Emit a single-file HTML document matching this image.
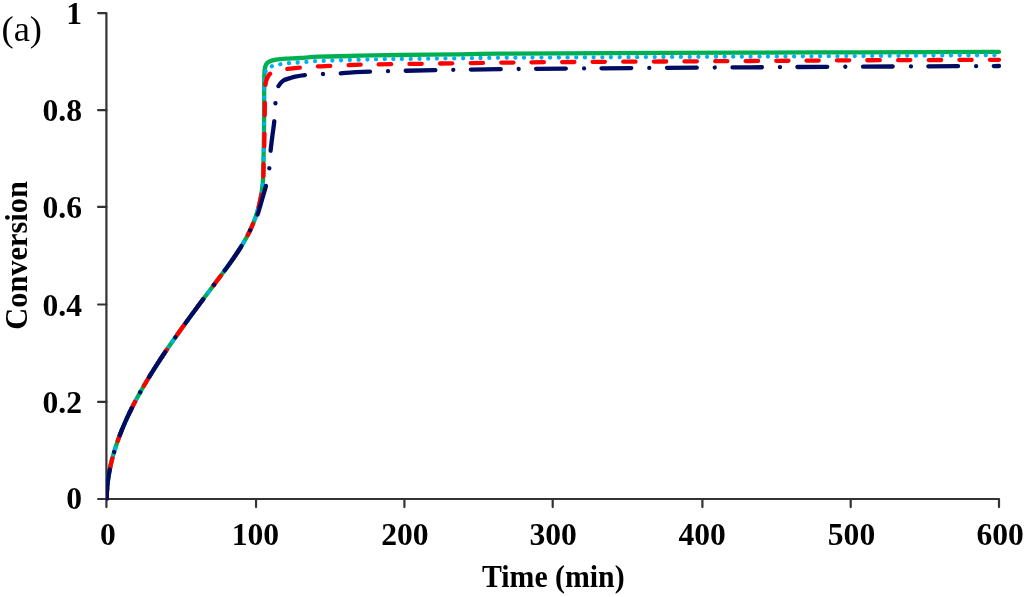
<!DOCTYPE html>
<html><head><meta charset="utf-8"><style>
html,body{margin:0;padding:0;background:#fff;}
svg{display:block;}
.lab text{font-family:"Liberation Serif",serif;font-weight:bold;font-size:30px;fill:#000;}
.tick text{font-size:31.6px;}
</style></head><body>
<svg width="1024" height="597" viewBox="0 0 1024 597">
<rect width="1024" height="597" fill="#fff"/>
<g stroke="#333" stroke-width="2.2" fill="none" stroke-linejoin="round" stroke-linecap="round">
<path d="M98.1,13.05 H106.40 V499.00"/>
<path d="M98.1,499.00 H999.00 V507.1"/>
<line x1="98.1" y1="401.90" x2="106.40" y2="401.90"/>
<line x1="98.1" y1="304.50" x2="106.40" y2="304.50"/>
<line x1="98.1" y1="206.90" x2="106.40" y2="206.90"/>
<line x1="98.1" y1="110.20" x2="106.40" y2="110.20"/>
<line x1="106.40" y1="499.00" x2="106.40" y2="507.1"/>
<line x1="256.05" y1="499.00" x2="256.05" y2="507.1"/>
<line x1="404.40" y1="499.00" x2="404.40" y2="507.1"/>
<line x1="552.70" y1="499.00" x2="552.70" y2="507.1"/>
<line x1="702.40" y1="499.00" x2="702.40" y2="507.1"/>
<line x1="850.70" y1="499.00" x2="850.70" y2="507.1"/>
</g>
<clipPath id="pa"><rect x="106.1" y="0" width="895.3" height="500.4"/></clipPath>
<g fill="none" stroke-linecap="round" stroke-linejoin="round" clip-path="url(#pa)">
<path d="M106.69,499.00 C106.70,498.50 106.72,497.00 106.74,496.00 C106.77,495.00 106.81,494.00 106.86,493.00 C106.91,492.00 106.97,491.00 107.04,490.00 C107.11,489.00 107.18,488.00 107.27,487.00 C107.36,486.00 107.46,485.00 107.57,484.00 C107.67,483.00 107.79,482.00 107.92,481.00 C108.04,480.00 108.18,479.00 108.33,478.00 C108.47,477.00 108.63,476.00 108.79,475.00 C108.95,474.00 109.13,473.00 109.31,472.00 C109.49,471.00 109.68,470.00 109.88,469.00 C110.08,468.00 110.29,467.00 110.51,466.00 C110.72,465.00 110.95,464.00 111.18,463.00 C111.42,462.00 111.66,461.00 111.91,460.00 C112.16,459.00 112.42,458.00 112.69,457.00 C112.96,456.00 113.24,455.00 113.52,454.00 C113.81,453.00 114.10,452.00 114.40,451.00 C114.70,450.00 115.01,449.00 115.33,448.00 C115.64,447.00 115.97,446.00 116.30,445.00 C116.63,444.00 116.97,443.00 117.32,442.00 C117.67,441.00 118.02,440.00 118.38,439.00 C118.75,438.00 119.12,437.00 119.49,436.00 C119.87,435.00 120.26,434.00 120.65,433.00 C121.04,432.00 121.44,431.00 121.84,430.00 C122.25,429.00 122.66,428.00 123.08,427.00 C123.50,426.00 123.93,425.00 124.36,424.00 C124.80,423.00 125.24,422.00 125.68,421.00 C126.13,420.00 126.58,419.00 127.04,418.00 C127.50,417.00 127.97,416.00 128.44,415.00 C128.91,414.00 129.39,413.00 129.88,412.00 C130.36,411.00 130.85,410.00 131.35,409.00 C131.85,408.00 132.35,407.00 132.86,406.00 C133.37,405.00 133.88,404.00 134.41,403.00 C134.93,402.00 135.45,401.00 135.98,400.00 C136.52,399.00 137.05,398.00 137.60,397.00 C138.14,396.00 138.69,395.00 139.24,394.00 C139.80,393.00 140.36,392.00 140.92,391.00 C141.48,390.00 142.05,389.00 142.63,388.00 C143.20,387.00 143.78,386.00 144.37,385.00 C144.95,384.00 145.54,383.00 146.13,382.00 C146.73,381.00 147.33,380.00 147.93,379.00 C148.53,378.00 149.14,377.00 149.75,376.00 C150.37,375.00 150.98,374.00 151.60,373.00 C152.22,372.00 152.85,371.00 153.48,370.00 C154.11,369.00 154.74,368.00 155.38,367.00 C156.02,366.00 156.66,365.00 157.31,364.00 C157.95,363.00 158.60,362.00 159.26,361.00 C159.91,360.00 160.57,359.00 161.23,358.00 C161.89,357.00 162.55,356.00 163.22,355.00 C163.89,354.00 164.56,353.00 165.23,352.00 C165.91,351.00 166.59,350.00 167.27,349.00 C167.95,348.00 168.63,347.00 169.32,346.00 C170.01,345.00 170.70,344.00 171.39,343.00 C172.09,342.00 172.78,341.00 173.48,340.00 C174.18,339.00 174.88,338.00 175.59,337.00 C176.29,336.00 177.00,335.00 177.71,334.00 C178.42,333.00 179.13,332.00 179.84,331.00 C180.56,330.00 181.27,329.00 181.99,328.00 C182.71,327.00 183.43,326.00 184.15,325.00 C184.88,324.00 185.60,323.00 186.33,322.00 C187.06,321.00 187.79,320.00 188.52,319.00 C189.25,318.00 189.98,317.00 190.71,316.00 C191.45,315.00 192.18,314.00 192.92,313.00 C193.66,312.00 194.40,311.00 195.14,310.00 C195.88,309.00 196.62,308.00 197.36,307.00 C198.10,306.00 198.85,305.00 199.59,304.00 C200.33,303.00 201.08,302.00 201.83,301.00 C202.57,300.00 203.32,299.00 204.07,298.00 C204.82,297.00 205.57,296.00 206.32,295.00 C207.07,294.00 207.82,293.00 208.57,292.00 C209.32,291.00 210.07,290.00 210.82,289.00 C211.57,288.00 212.33,287.00 213.08,286.00 C213.83,285.00 214.58,284.00 215.34,283.00 C216.09,282.00 216.84,281.00 217.59,280.00 C218.34,279.00 219.10,278.00 219.84,277.00 C220.59,276.00 221.34,275.00 222.08,274.00 C222.83,273.00 223.57,272.00 224.31,271.00 C225.05,270.00 225.78,269.00 226.51,268.00 C227.24,267.00 227.97,266.00 228.69,265.00 C229.41,264.00 230.13,263.00 230.83,262.00 C231.54,261.00 232.25,260.00 232.94,259.00 C233.64,258.00 234.32,257.00 235.00,256.00 C235.68,255.00 236.36,254.00 237.02,253.00 C237.68,252.00 238.34,251.00 238.98,250.00 C239.63,249.00 240.26,248.00 240.89,247.00 C241.51,246.00 242.12,245.00 242.72,244.00 C243.33,243.00 243.92,242.00 244.49,241.00 C245.07,240.00 245.64,239.00 246.19,238.00 C246.74,237.00 247.28,236.00 247.80,235.00 C248.33,234.00 248.84,233.00 249.33,232.00 C249.82,231.00 250.30,230.00 250.77,229.00 C251.23,228.00 251.68,227.00 252.11,226.00 C252.54,225.00 252.96,224.00 253.36,223.00 C253.77,222.00 254.16,221.00 254.53,220.00 C254.90,219.00 255.26,218.00 255.61,217.00 C255.96,216.00 256.29,215.00 256.61,214.00 C256.93,213.00 257.24,212.00 257.53,211.00 C257.82,210.00 258.10,209.00 258.37,208.00 C258.64,207.00 258.89,206.00 259.14,205.00 C259.38,204.00 259.61,203.00 259.83,202.00 C260.06,201.00 260.26,200.00 260.46,199.00 C260.66,198.00 260.85,197.00 261.02,196.00 C261.20,195.00 261.36,194.00 261.52,193.00 C261.67,192.00 261.82,191.00 261.95,190.00 C262.09,189.00 262.21,188.00 262.33,187.00 C262.45,186.00 262.55,185.00 262.65,184.00 C262.75,183.00 262.84,182.00 262.92,181.00 C263.00,180.00 263.07,179.00 263.13,178.00 C263.20,177.00 263.25,176.00 263.30,175.00 C263.35,174.00 263.39,174.50 263.43,172.00 C263.46,169.50 263.43,164.50 263.50,160.00 C263.57,155.50 263.76,150.83 263.85,145.00 C263.94,139.17 264.00,131.67 264.05,125.00 C264.10,118.33 264.12,111.83 264.15,105.00 C264.17,98.17 264.12,89.83 264.20,84.00 C264.27,78.17 264.23,73.33 264.60,70.00 C264.97,66.67 265.50,65.45 266.40,64.00 C267.30,62.55 268.40,62.02 270.00,61.30 C271.60,60.58 273.40,60.15 276.00,59.70 C278.60,59.25 281.60,58.88 285.60,58.60 C289.60,58.32 294.35,58.32 300.00,58.00 C305.65,57.68 309.50,57.08 319.50,56.70 C329.50,56.32 346.58,55.98 360.00,55.70 C373.42,55.42 383.33,55.23 400.00,55.00 C416.67,54.77 443.33,54.52 460.00,54.30 C476.67,54.08 483.33,53.85 500.00,53.70 C516.67,53.55 518.33,53.58 560.00,53.40 C601.67,53.22 700.00,52.78 750.00,52.60 C800.00,52.42 818.50,52.42 860.00,52.30 C901.50,52.18 975.83,51.97 999.00,51.90" stroke="#00B050" stroke-width="4.3"/>
<path d="M106.69,499.00 C106.70,498.50 106.72,497.00 106.74,496.00 C106.77,495.00 106.81,494.00 106.86,493.00 C106.91,492.00 106.97,491.00 107.04,490.00 C107.11,489.00 107.18,488.00 107.27,487.00 C107.36,486.00 107.46,485.00 107.57,484.00 C107.67,483.00 107.79,482.00 107.92,481.00 C108.04,480.00 108.18,479.00 108.33,478.00 C108.47,477.00 108.63,476.00 108.79,475.00 C108.95,474.00 109.13,473.00 109.31,472.00 C109.49,471.00 109.68,470.00 109.88,469.00 C110.08,468.00 110.29,467.00 110.51,466.00 C110.72,465.00 110.95,464.00 111.18,463.00 C111.42,462.00 111.66,461.00 111.91,460.00 C112.16,459.00 112.42,458.00 112.69,457.00 C112.96,456.00 113.24,455.00 113.52,454.00 C113.81,453.00 114.10,452.00 114.40,451.00 C114.70,450.00 115.01,449.00 115.33,448.00 C115.64,447.00 115.97,446.00 116.30,445.00 C116.63,444.00 116.97,443.00 117.32,442.00 C117.67,441.00 118.02,440.00 118.38,439.00 C118.75,438.00 119.12,437.00 119.49,436.00 C119.87,435.00 120.26,434.00 120.65,433.00 C121.04,432.00 121.44,431.00 121.84,430.00 C122.25,429.00 122.66,428.00 123.08,427.00 C123.50,426.00 123.93,425.00 124.36,424.00 C124.80,423.00 125.24,422.00 125.68,421.00 C126.13,420.00 126.58,419.00 127.04,418.00 C127.50,417.00 127.97,416.00 128.44,415.00 C128.91,414.00 129.39,413.00 129.88,412.00 C130.36,411.00 130.85,410.00 131.35,409.00 C131.85,408.00 132.35,407.00 132.86,406.00 C133.37,405.00 133.88,404.00 134.41,403.00 C134.93,402.00 135.45,401.00 135.98,400.00 C136.52,399.00 137.05,398.00 137.60,397.00 C138.14,396.00 138.69,395.00 139.24,394.00 C139.80,393.00 140.36,392.00 140.92,391.00 C141.48,390.00 142.05,389.00 142.63,388.00 C143.20,387.00 143.78,386.00 144.37,385.00 C144.95,384.00 145.54,383.00 146.13,382.00 C146.73,381.00 147.33,380.00 147.93,379.00 C148.53,378.00 149.14,377.00 149.75,376.00 C150.37,375.00 150.98,374.00 151.60,373.00 C152.22,372.00 152.85,371.00 153.48,370.00 C154.11,369.00 154.74,368.00 155.38,367.00 C156.02,366.00 156.66,365.00 157.31,364.00 C157.95,363.00 158.60,362.00 159.26,361.00 C159.91,360.00 160.57,359.00 161.23,358.00 C161.89,357.00 162.55,356.00 163.22,355.00 C163.89,354.00 164.56,353.00 165.23,352.00 C165.91,351.00 166.59,350.00 167.27,349.00 C167.95,348.00 168.63,347.00 169.32,346.00 C170.01,345.00 170.70,344.00 171.39,343.00 C172.09,342.00 172.78,341.00 173.48,340.00 C174.18,339.00 174.88,338.00 175.59,337.00 C176.29,336.00 177.00,335.00 177.71,334.00 C178.42,333.00 179.13,332.00 179.84,331.00 C180.56,330.00 181.27,329.00 181.99,328.00 C182.71,327.00 183.43,326.00 184.15,325.00 C184.88,324.00 185.60,323.00 186.33,322.00 C187.06,321.00 187.79,320.00 188.52,319.00 C189.25,318.00 189.98,317.00 190.71,316.00 C191.45,315.00 192.18,314.00 192.92,313.00 C193.66,312.00 194.40,311.00 195.14,310.00 C195.88,309.00 196.62,308.00 197.36,307.00 C198.10,306.00 198.85,305.00 199.59,304.00 C200.33,303.00 201.08,302.00 201.83,301.00 C202.57,300.00 203.32,299.00 204.07,298.00 C204.82,297.00 205.57,296.00 206.32,295.00 C207.07,294.00 207.82,293.00 208.57,292.00 C209.32,291.00 210.07,290.00 210.82,289.00 C211.57,288.00 212.33,287.00 213.08,286.00 C213.83,285.00 214.58,284.00 215.34,283.00 C216.09,282.00 216.84,281.00 217.59,280.00 C218.34,279.00 219.10,278.00 219.84,277.00 C220.59,276.00 221.34,275.00 222.08,274.00 C222.83,273.00 223.57,272.00 224.31,271.00 C225.05,270.00 225.78,269.00 226.51,268.00 C227.24,267.00 227.97,266.00 228.69,265.00 C229.41,264.00 230.13,263.00 230.83,262.00 C231.54,261.00 232.25,260.00 232.94,259.00 C233.64,258.00 234.32,257.00 235.00,256.00 C235.68,255.00 236.36,254.00 237.02,253.00 C237.68,252.00 238.34,251.00 238.98,250.00 C239.63,249.00 240.26,248.00 240.89,247.00 C241.51,246.00 242.12,245.00 242.72,244.00 C243.33,243.00 243.92,242.00 244.49,241.00 C245.07,240.00 245.64,239.00 246.19,238.00 C246.74,237.00 247.28,236.00 247.80,235.00 C248.33,234.00 248.84,233.00 249.33,232.00 C249.82,231.00 250.30,230.00 250.77,229.00 C251.23,228.00 251.68,227.00 252.11,226.00 C252.54,225.00 252.96,224.00 253.36,223.00 C253.77,222.00 254.16,221.00 254.53,220.00 C254.90,219.00 255.26,218.00 255.61,217.00 C255.96,216.00 256.29,215.00 256.61,214.00 C256.93,213.00 257.24,212.00 257.53,211.00 C257.82,210.00 258.10,209.00 258.37,208.00 C258.64,207.00 258.89,206.00 259.14,205.00 C259.38,204.00 259.61,203.00 259.83,202.00 C260.06,201.00 260.26,200.00 260.46,199.00 C260.66,198.00 260.85,197.00 261.02,196.00 C261.20,195.00 261.36,194.00 261.52,193.00 C261.67,192.00 261.82,191.00 261.95,190.00 C262.09,189.00 262.21,188.00 262.33,187.00 C262.45,186.00 262.55,185.00 262.65,184.00 C262.75,183.00 262.84,182.00 262.92,181.00 C263.00,180.00 263.07,179.00 263.13,178.00 C263.20,177.00 263.25,176.00 263.30,175.00 C263.35,174.00 263.39,174.50 263.43,172.00 C263.46,169.50 263.43,164.50 263.50,160.00 C263.57,155.50 263.76,150.83 263.85,145.00 C263.94,139.17 264.00,131.67 264.05,125.00 C264.10,118.33 264.11,111.50 264.15,105.00 C264.19,98.50 264.12,91.33 264.30,86.00 C264.48,80.67 264.65,75.93 265.20,73.00 C265.75,70.07 266.50,69.53 267.60,68.40 C268.70,67.27 269.72,66.88 271.80,66.20 C273.88,65.52 277.28,64.82 280.10,64.30 C282.92,63.78 285.78,63.40 288.70,63.10 C291.62,62.80 294.72,62.70 297.60,62.50 C300.48,62.30 303.10,62.12 306.00,61.90 C308.90,61.68 311.00,61.42 315.00,61.20 C319.00,60.98 319.83,60.92 330.00,60.60 C340.17,60.28 361.00,59.60 376.00,59.30 C391.00,59.00 399.33,59.05 420.00,58.80 C440.67,58.55 476.67,58.02 500.00,57.80 C523.33,57.58 518.33,57.70 560.00,57.50 C601.67,57.30 700.00,56.85 750.00,56.60 C800.00,56.35 818.50,56.25 860.00,56.00 C901.50,55.75 975.83,55.25 999.00,55.10" stroke="#00B0F0" stroke-width="4.3" stroke-dasharray="0.01 8.7" stroke-dashoffset="0.6"/>
<path d="M106.69,499.00 C106.70,498.50 106.72,497.00 106.74,496.00 C106.77,495.00 106.81,494.00 106.86,493.00 C106.91,492.00 106.97,491.00 107.04,490.00 C107.11,489.00 107.18,488.00 107.27,487.00 C107.36,486.00 107.46,485.00 107.57,484.00 C107.67,483.00 107.79,482.00 107.92,481.00 C108.04,480.00 108.18,479.00 108.33,478.00 C108.47,477.00 108.63,476.00 108.79,475.00 C108.95,474.00 109.13,473.00 109.31,472.00 C109.49,471.00 109.68,470.00 109.88,469.00 C110.08,468.00 110.29,467.00 110.51,466.00 C110.72,465.00 110.95,464.00 111.18,463.00 C111.42,462.00 111.66,461.00 111.91,460.00 C112.16,459.00 112.42,458.00 112.69,457.00 C112.96,456.00 113.24,455.00 113.52,454.00 C113.81,453.00 114.10,452.00 114.40,451.00 C114.70,450.00 115.01,449.00 115.33,448.00 C115.64,447.00 115.97,446.00 116.30,445.00 C116.63,444.00 116.97,443.00 117.32,442.00 C117.67,441.00 118.02,440.00 118.38,439.00 C118.75,438.00 119.12,437.00 119.49,436.00 C119.87,435.00 120.26,434.00 120.65,433.00 C121.04,432.00 121.44,431.00 121.84,430.00 C122.25,429.00 122.66,428.00 123.08,427.00 C123.50,426.00 123.93,425.00 124.36,424.00 C124.80,423.00 125.24,422.00 125.68,421.00 C126.13,420.00 126.58,419.00 127.04,418.00 C127.50,417.00 127.97,416.00 128.44,415.00 C128.91,414.00 129.39,413.00 129.88,412.00 C130.36,411.00 130.85,410.00 131.35,409.00 C131.85,408.00 132.35,407.00 132.86,406.00 C133.37,405.00 133.88,404.00 134.41,403.00 C134.93,402.00 135.45,401.00 135.98,400.00 C136.52,399.00 137.05,398.00 137.60,397.00 C138.14,396.00 138.69,395.00 139.24,394.00 C139.80,393.00 140.36,392.00 140.92,391.00 C141.48,390.00 142.05,389.00 142.63,388.00 C143.20,387.00 143.78,386.00 144.37,385.00 C144.95,384.00 145.54,383.00 146.13,382.00 C146.73,381.00 147.33,380.00 147.93,379.00 C148.53,378.00 149.14,377.00 149.75,376.00 C150.37,375.00 150.98,374.00 151.60,373.00 C152.22,372.00 152.85,371.00 153.48,370.00 C154.11,369.00 154.74,368.00 155.38,367.00 C156.02,366.00 156.66,365.00 157.31,364.00 C157.95,363.00 158.60,362.00 159.26,361.00 C159.91,360.00 160.57,359.00 161.23,358.00 C161.89,357.00 162.55,356.00 163.22,355.00 C163.89,354.00 164.56,353.00 165.23,352.00 C165.91,351.00 166.59,350.00 167.27,349.00 C167.95,348.00 168.63,347.00 169.32,346.00 C170.01,345.00 170.70,344.00 171.39,343.00 C172.09,342.00 172.78,341.00 173.48,340.00 C174.18,339.00 174.88,338.00 175.59,337.00 C176.29,336.00 177.00,335.00 177.71,334.00 C178.42,333.00 179.13,332.00 179.84,331.00 C180.56,330.00 181.27,329.00 181.99,328.00 C182.71,327.00 183.43,326.00 184.15,325.00 C184.88,324.00 185.60,323.00 186.33,322.00 C187.06,321.00 187.79,320.00 188.52,319.00 C189.25,318.00 189.98,317.00 190.71,316.00 C191.45,315.00 192.18,314.00 192.92,313.00 C193.66,312.00 194.40,311.00 195.14,310.00 C195.88,309.00 196.62,308.00 197.36,307.00 C198.10,306.00 198.85,305.00 199.59,304.00 C200.33,303.00 201.08,302.00 201.83,301.00 C202.57,300.00 203.32,299.00 204.07,298.00 C204.82,297.00 205.57,296.00 206.32,295.00 C207.07,294.00 207.82,293.00 208.57,292.00 C209.32,291.00 210.07,290.00 210.82,289.00 C211.57,288.00 212.33,287.00 213.08,286.00 C213.83,285.00 214.58,284.00 215.34,283.00 C216.09,282.00 216.84,281.00 217.59,280.00 C218.34,279.00 219.10,278.00 219.84,277.00 C220.59,276.00 221.34,275.00 222.08,274.00 C222.83,273.00 223.57,272.00 224.31,271.00 C225.05,270.00 225.78,269.00 226.51,268.00 C227.24,267.00 227.97,266.00 228.69,265.00 C229.41,264.00 230.13,263.00 230.83,262.00 C231.54,261.00 232.25,260.00 232.94,259.00 C233.64,258.00 234.32,257.00 235.00,256.00 C235.68,255.00 236.36,254.00 237.02,253.00 C237.68,252.00 238.34,251.00 238.98,250.00 C239.63,249.00 240.26,248.00 240.89,247.00 C241.51,246.00 242.12,245.00 242.72,244.00 C243.33,243.00 243.92,242.00 244.49,241.00 C245.07,240.00 245.64,239.00 246.19,238.00 C246.74,237.00 247.28,236.00 247.80,235.00 C248.33,234.00 248.84,233.00 249.33,232.00 C249.82,231.00 250.30,230.00 250.77,229.00 C251.23,228.00 251.68,227.00 252.11,226.00 C252.54,225.00 252.96,224.00 253.36,223.00 C253.77,222.00 254.16,221.00 254.53,220.00 C254.90,219.00 255.26,218.00 255.61,217.00 C255.96,216.00 256.29,215.00 256.61,214.00 C256.93,213.00 257.24,212.00 257.53,211.00 C257.82,210.00 258.10,209.00 258.37,208.00 C258.64,207.00 258.89,206.00 259.14,205.00 C259.38,204.00 259.61,203.00 259.83,202.00 C260.06,201.00 260.26,200.00 260.46,199.00 C260.66,198.00 260.85,197.00 261.02,196.00 C261.20,195.00 261.36,194.00 261.52,193.00 C261.67,192.00 261.82,191.00 261.95,190.00 C262.09,189.00 262.21,188.00 262.33,187.00 C262.45,186.00 262.55,185.00 262.65,184.00 C262.75,183.00 262.84,182.00 262.92,181.00 C263.00,180.00 263.07,179.00 263.13,178.00 C263.20,177.00 263.25,176.00 263.30,175.00 C263.35,174.00 263.38,174.50 263.43,172.00 C263.47,169.50 263.47,164.00 263.60,160.00 C263.73,156.00 264.02,155.17 264.20,148.00 C264.38,140.83 264.57,125.83 264.70,117.00 C264.83,108.17 264.82,100.75 265.00,95.00 C265.18,89.25 265.20,85.75 265.80,82.50 C266.40,79.25 267.48,77.20 268.60,75.50 C269.72,73.80 270.93,73.12 272.50,72.30 C274.07,71.48 275.75,71.13 278.00,70.60 C280.25,70.07 282.17,69.60 286.00,69.10 C289.83,68.60 295.95,68.03 301.00,67.60 C306.05,67.17 311.22,66.78 316.30,66.50 C321.38,66.22 326.43,66.12 331.50,65.90 C336.57,65.68 341.53,65.42 346.70,65.20 C351.87,64.98 350.28,64.83 362.50,64.60 C374.72,64.37 397.08,64.12 420.00,63.80 C442.92,63.48 476.67,62.98 500.00,62.70 C523.33,62.42 518.33,62.38 560.00,62.10 C601.67,61.82 700.00,61.30 750.00,61.00 C800.00,60.70 818.50,60.50 860.00,60.30 C901.50,60.10 975.83,59.88 999.00,59.80" stroke="#FF0000" stroke-width="4.3" stroke-dasharray="12.3 18.24" stroke-dashoffset="1.7"/>
<path d="M106.69,499.00 C106.70,498.50 106.72,497.00 106.74,496.00 C106.77,495.00 106.81,494.00 106.86,493.00 C106.91,492.00 106.97,491.00 107.04,490.00 C107.11,489.00 107.18,488.00 107.27,487.00 C107.36,486.00 107.46,485.00 107.57,484.00 C107.67,483.00 107.79,482.00 107.92,481.00 C108.04,480.00 108.18,479.00 108.33,478.00 C108.47,477.00 108.63,476.00 108.79,475.00 C108.95,474.00 109.13,473.00 109.31,472.00 C109.49,471.00 109.68,470.00 109.88,469.00 C110.08,468.00 110.29,467.00 110.51,466.00 C110.72,465.00 110.95,464.00 111.18,463.00 C111.42,462.00 111.66,461.00 111.91,460.00 C112.16,459.00 112.42,458.00 112.69,457.00 C112.96,456.00 113.24,455.00 113.52,454.00 C113.81,453.00 114.10,452.00 114.40,451.00 C114.70,450.00 115.01,449.00 115.33,448.00 C115.64,447.00 115.97,446.00 116.30,445.00 C116.63,444.00 116.97,443.00 117.32,442.00 C117.67,441.00 118.02,440.00 118.38,439.00 C118.75,438.00 119.12,437.00 119.49,436.00 C119.87,435.00 120.26,434.00 120.65,433.00 C121.04,432.00 121.44,431.00 121.84,430.00 C122.25,429.00 122.66,428.00 123.08,427.00 C123.50,426.00 123.93,425.00 124.36,424.00 C124.80,423.00 125.24,422.00 125.68,421.00 C126.13,420.00 126.58,419.00 127.04,418.00 C127.50,417.00 127.97,416.00 128.44,415.00 C128.91,414.00 129.39,413.00 129.88,412.00 C130.36,411.00 130.85,410.00 131.35,409.00 C131.85,408.00 132.35,407.00 132.86,406.00 C133.37,405.00 133.88,404.00 134.41,403.00 C134.93,402.00 135.45,401.00 135.98,400.00 C136.52,399.00 137.05,398.00 137.60,397.00 C138.14,396.00 138.69,395.00 139.24,394.00 C139.80,393.00 140.36,392.00 140.92,391.00 C141.48,390.00 142.05,389.00 142.63,388.00 C143.20,387.00 143.78,386.00 144.37,385.00 C144.95,384.00 145.54,383.00 146.13,382.00 C146.73,381.00 147.33,380.00 147.93,379.00 C148.53,378.00 149.14,377.00 149.75,376.00 C150.37,375.00 150.98,374.00 151.60,373.00 C152.22,372.00 152.85,371.00 153.48,370.00 C154.11,369.00 154.74,368.00 155.38,367.00 C156.02,366.00 156.66,365.00 157.31,364.00 C157.95,363.00 158.60,362.00 159.26,361.00 C159.91,360.00 160.57,359.00 161.23,358.00 C161.89,357.00 162.55,356.00 163.22,355.00 C163.89,354.00 164.56,353.00 165.23,352.00 C165.91,351.00 166.59,350.00 167.27,349.00 C167.95,348.00 168.63,347.00 169.32,346.00 C170.01,345.00 170.70,344.00 171.39,343.00 C172.09,342.00 172.78,341.00 173.48,340.00 C174.18,339.00 174.88,338.00 175.59,337.00 C176.29,336.00 177.00,335.00 177.71,334.00 C178.42,333.00 179.13,332.00 179.84,331.00 C180.56,330.00 181.27,329.00 181.99,328.00 C182.71,327.00 183.43,326.00 184.15,325.00 C184.88,324.00 185.60,323.00 186.33,322.00 C187.06,321.00 187.79,320.00 188.52,319.00 C189.25,318.00 189.98,317.00 190.71,316.00 C191.45,315.00 192.18,314.00 192.92,313.00 C193.66,312.00 194.40,311.00 195.14,310.00 C195.88,309.00 196.62,308.00 197.36,307.00 C198.10,306.00 198.85,305.00 199.59,304.00 C200.33,303.00 201.08,302.00 201.83,301.00 C202.57,300.00 203.32,299.00 204.07,298.00 C204.82,297.00 205.57,296.00 206.32,295.00 C207.07,294.00 207.82,293.00 208.57,292.00 C209.32,291.00 210.07,290.00 210.82,289.00 C211.57,288.00 212.33,287.00 213.08,286.00 C213.83,285.00 214.58,284.00 215.34,283.00 C216.09,282.00 216.84,281.00 217.59,280.00 C218.34,279.00 219.10,278.00 219.84,277.00 C220.59,276.00 221.34,275.00 222.08,274.00 C222.83,273.00 223.57,272.00 224.31,271.00 C225.05,270.00 225.78,269.00 226.51,268.00 C227.24,267.00 227.97,266.00 228.69,265.00 C229.41,264.00 230.13,263.00 230.83,262.00 C231.54,261.00 232.25,260.00 232.94,259.00 C233.64,258.00 234.32,257.00 235.00,256.00 C235.68,255.00 236.36,254.00 237.02,253.00 C237.68,252.00 238.34,251.00 238.98,250.00 C239.63,249.00 240.26,248.00 240.89,247.00 C241.51,246.00 242.12,245.00 242.72,244.00 C243.33,243.00 243.92,242.00 244.49,241.00 C245.07,240.00 245.64,239.00 246.19,238.00 C246.74,237.00 247.28,236.00 247.80,235.00 C248.33,234.00 248.84,233.00 249.33,232.00 C249.82,231.00 250.30,230.00 250.77,229.00 C251.23,228.00 251.81,226.67 252.11,226.00 C252.41,225.33 251.62,226.93 252.54,225.00 C253.45,223.07 255.94,218.90 257.60,214.40 C259.26,209.90 261.12,202.73 262.50,198.00 C263.88,193.27 264.77,190.93 265.90,186.00 C267.03,181.07 268.52,174.27 269.30,168.40 C270.08,162.53 270.07,156.37 270.60,150.80 C271.13,145.23 271.88,139.95 272.50,135.00 C273.12,130.05 273.82,126.33 274.30,121.10 C274.78,115.87 275.03,108.28 275.40,103.60 C275.77,98.92 275.98,95.93 276.50,93.00 C277.02,90.07 277.35,88.07 278.50,86.00 C279.65,83.93 281.48,81.92 283.40,80.60 C285.32,79.28 288.03,78.77 290.00,78.10 C291.97,77.43 292.38,77.13 295.20,76.60 C298.02,76.07 302.22,75.33 306.90,74.90 C311.58,74.47 317.83,74.25 323.30,74.00 C328.77,73.75 331.60,73.80 339.70,73.40 C347.80,73.00 345.18,72.30 371.90,71.60 C398.62,70.90 436.98,69.92 500.00,69.20 C563.02,68.48 666.83,67.83 750.00,67.30 C833.17,66.77 957.50,66.22 999.00,66.00" stroke="#000c62" stroke-width="4.3" stroke-dasharray="29.7 18 0.01 17.6"/>
</g>
<g class="lab">
<g class="tick">
<text x="82" y="509.10" text-anchor="end">0</text>
<text x="82" y="412.90" text-anchor="end">0.2</text>
<text x="82" y="315.50" text-anchor="end">0.4</text>
<text x="82" y="217.90" text-anchor="end">0.6</text>
<text x="82" y="121.20" text-anchor="end">0.8</text>
<text x="82" y="24.05" text-anchor="end">1</text>
<text x="107.90" y="544.6" text-anchor="middle">0</text>
<text x="255.45" y="544.6" text-anchor="middle">100</text>
<text x="404.90" y="544.6" text-anchor="middle">200</text>
<text x="553.10" y="544.6" text-anchor="middle">300</text>
<text x="702.20" y="544.6" text-anchor="middle">400</text>
<text x="851.50" y="544.6" text-anchor="middle">500</text>
<text x="1000.10" y="544.6" text-anchor="middle">600</text>
</g>
<text transform="translate(553.3,586.7) scale(1,1.068)" text-anchor="middle" style="font-size:29.8px">Time (min)</text>
<text transform="translate(26.8,255.45) rotate(-90) scale(1,1.065)" text-anchor="middle" style="font-size:30.4px">Conversion</text>
</g>
<text x="1.5" y="41.2" font-family="Liberation Serif, serif" font-size="36.5px" fill="#000">(a)</text>
</svg>
</body></html>
